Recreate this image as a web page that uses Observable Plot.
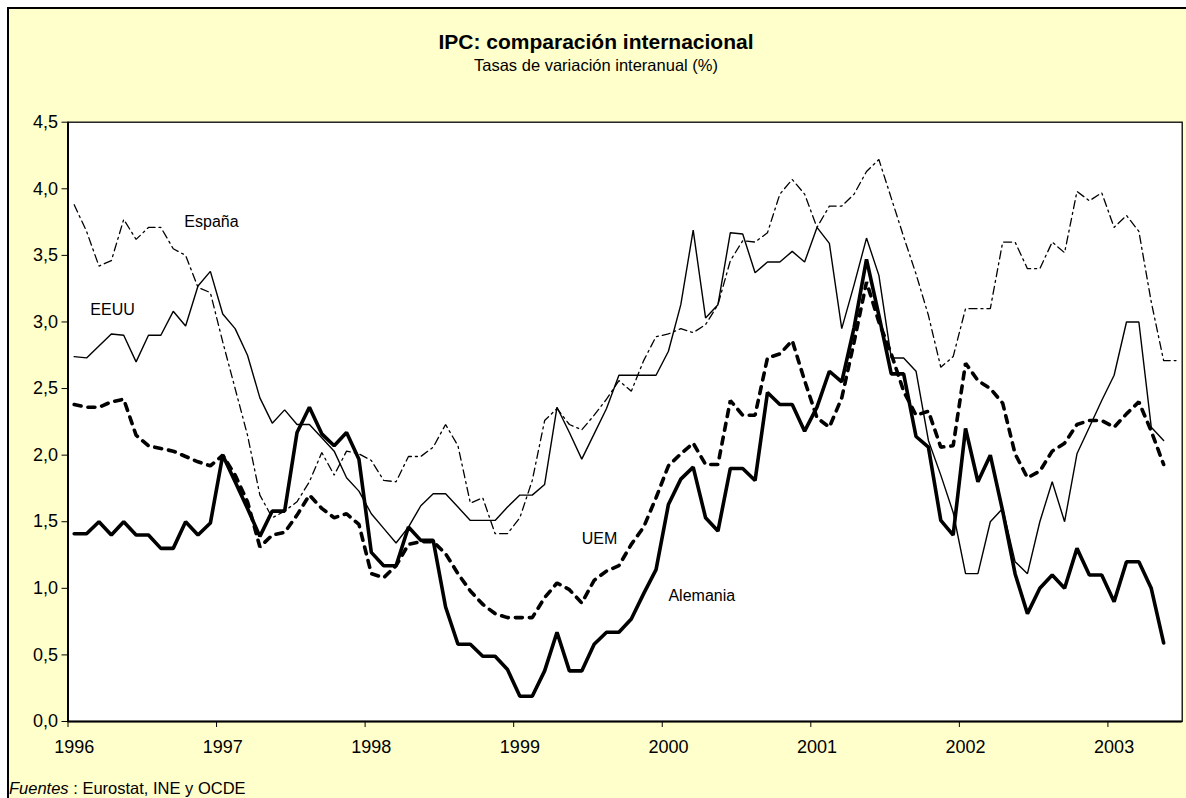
<!DOCTYPE html>
<html>
<head>
<meta charset="utf-8">
<script src="https://cdn.jsdelivr.net/npm/d3@7"></script>
<script src="https://cdn.jsdelivr.net/npm/@observablehq/plot@0.6"></script>
<style>
  html, body { margin: 0; padding: 0; background: white; }
  #page { position: relative; width: 1186px; height: 798px; overflow: hidden; background: white;
          font-family: "Liberation Sans", Arial, sans-serif; color: black; }
  #panel { position: absolute; left: 7px; top: 7px; width: 1200px; height: 820px;
           background: #FFFFCC; border-left: 2px solid black; border-top: 2px solid black; }
  #chart { position: absolute; left: 0; top: 0; }
  .title { position: absolute; left: 0; width: 1192px; text-align: center; line-height: 1; white-space: nowrap; }
  #t1 { top: 31px; font-size: 21px; font-weight: bold; }
  #t2 { top: 57px; font-size: 16.5px; }
  #src { position: absolute; left: 9px; top: 780px; font-size: 16.5px; line-height: 1; white-space: nowrap; }
</style>
</head>
<body>
<div id="page">
  <div id="panel"></div>
  <div id="chart"></div>
  <div class="title" id="t1">IPC: comparación internacional</div>
  <div class="title" id="t2">Tasas de variación interanual (%)</div>
  <div id="src"><i>Fuentes</i> : Eurostat, INE y OCDE</div>
</div>
<script>
// ---- data: monthly year-on-year CPI rates, Jan 1996 onward (index 0 = Jan 1996)
const years = [1996, 1997, 1998, 1999, 2000, 2001, 2002, 2003];

const espana = [
  3.88, 3.68, 3.42, 3.46, 3.77, 3.62, 3.71, 3.71, 3.55, 3.50, 3.26, 3.22,
  2.85, 2.50, 2.15, 1.70, 1.53, 1.58, 1.65, 1.80, 2.02, 1.85, 2.03, 2.01,
  1.96, 1.81, 1.80, 1.99, 1.99, 2.06, 2.23, 2.07, 1.64, 1.68, 1.41, 1.41,
  1.53, 1.81, 2.26, 2.35, 2.23, 2.19, 2.30, 2.42, 2.56, 2.48, 2.71, 2.89,
  2.91, 2.95, 2.92, 2.98, 3.13, 3.46, 3.61, 3.60, 3.67, 3.96, 4.07, 3.96,
  3.71, 3.87, 3.87, 3.96, 4.13, 4.22, 3.93, 3.64, 3.36, 3.05, 2.66, 2.74,
  3.10, 3.10, 3.10, 3.60, 3.60, 3.40, 3.40, 3.60, 3.52, 3.98, 3.91, 3.97,
  3.71, 3.80, 3.68, 3.15, 2.71, 2.71
];

const eeuu = [
  2.74, 2.73, 2.82, 2.91, 2.90, 2.70, 2.90, 2.90, 3.08, 2.97, 3.27, 3.38,
  3.06, 2.95, 2.75, 2.43, 2.24, 2.34, 2.23, 2.23, 2.13, 2.03, 1.83, 1.73,
  1.56, 1.45, 1.34, 1.46, 1.62, 1.71, 1.71, 1.61, 1.51, 1.51, 1.51, 1.61,
  1.70, 1.70, 1.78, 2.36, 2.17, 1.97, 2.16, 2.35, 2.60, 2.60, 2.60, 2.60,
  2.78, 3.13, 3.69, 3.03, 3.13, 3.67, 3.66, 3.37, 3.45, 3.45, 3.53, 3.45,
  3.71, 3.59, 2.95, 3.28, 3.63, 3.35, 2.73, 2.73, 2.63, 2.11, 1.85, 1.57,
  1.11, 1.11, 1.50, 1.60, 1.20, 1.11, 1.50, 1.80, 1.50, 2.01, 2.21, 2.41,
  2.60, 3.00, 3.00, 2.21, 2.11
];

const alemania = [
  1.41, 1.41, 1.50, 1.40, 1.50, 1.40, 1.40, 1.30, 1.30, 1.50, 1.40, 1.49,
  2.00, 1.80, 1.60, 1.39, 1.58, 1.58, 2.17, 2.36, 2.16, 2.07, 2.17, 1.97,
  1.27, 1.17, 1.17, 1.46, 1.36, 1.36, 0.86, 0.58, 0.58, 0.49, 0.49, 0.39,
  0.19, 0.19, 0.38, 0.67, 0.38, 0.38, 0.58, 0.67, 0.67, 0.77, 0.96, 1.14,
  1.63, 1.82, 1.91, 1.53, 1.43, 1.90, 1.90, 1.81, 2.47, 2.38, 2.38, 2.18,
  2.36, 2.63, 2.55, 2.96, 3.47, 3.05, 2.61, 2.61, 2.14, 2.06, 1.51, 1.40,
  2.20, 1.80, 2.00, 1.58, 1.11, 0.81, 1.00, 1.10, 1.00, 1.30, 1.10, 1.10,
  0.90, 1.20, 1.20, 1.00, 0.59
];

const uem = [
  2.38, 2.36, 2.36, 2.40, 2.42, 2.15, 2.07, 2.05, 2.03, 1.99, 1.95, 1.92,
  2.00, 1.85, 1.65, 1.31, 1.40, 1.42, 1.55, 1.70, 1.60, 1.53, 1.56, 1.48,
  1.11, 1.08, 1.17, 1.33, 1.35, 1.35, 1.26, 1.11, 0.98, 0.88, 0.81, 0.78,
  0.78, 0.78, 0.93, 1.04, 0.99, 0.89, 1.06, 1.13, 1.17, 1.33, 1.46, 1.68,
  1.92, 2.01, 2.09, 1.93, 1.93, 2.41, 2.30, 2.30, 2.73, 2.76, 2.86, 2.56,
  2.28, 2.21, 2.43, 2.85, 3.30, 3.00, 2.76, 2.48, 2.30, 2.33, 2.06, 2.07,
  2.69, 2.56, 2.50, 2.39, 2.01, 1.83, 1.88, 2.03, 2.09, 2.23, 2.26, 2.26,
  2.21, 2.31, 2.40, 2.18, 1.93
];

const yTicks = [0, 0.5, 1, 1.5, 2, 2.5, 3, 3.5, 4, 4.5];

// series labels (anchor month index, value)
const labelNames = ["España", "EEUU", "UEM", "Alemania"];
const labelMonth = [8.9, 1.3, 41.0, 48.0];
const labelValue = [3.75, 3.09, 1.37, 0.94];

// ---- build tables
const rows = (arr) => arr.map((v, i) => ({i, v}));
const labels = labelNames.map((name, k) => ({name, i: labelMonth[k], v: labelValue[k]}));
const yearStarts = years.map((y, k) => k * 12);
const yearBounds = years.map((y, k) => k * 12 - 0.5);

const nMonths = espana.length;

const chart = Plot.plot({
  width: 1186,
  height: 798,
  marginLeft: 67.5,
  marginRight: 4.3,
  marginTop: 121.7,
  marginBottom: 77,
  style: {background: "transparent", fontFamily: "'Liberation Sans', Arial, sans-serif", color: "black", overflow: "visible"},
  x: {type: "linear", domain: [-0.5, nMonths - 0.5]},
  y: {domain: [0, 4.5]},
  marks: [
    Plot.frame({fill: "white", stroke: null}),
    Plot.lineY(rows(espana), {x: "i", y: "v", stroke: "black", strokeWidth: 1.3, strokeDasharray: "8,4,2,4", strokeLinejoin: "miter"}),
    Plot.lineY(rows(eeuu), {x: "i", y: "v", stroke: "black", strokeWidth: 1.4, strokeLinejoin: "miter"}),
    Plot.lineY(rows(uem), {x: "i", y: "v", stroke: "black", strokeWidth: 3.6, strokeDasharray: "7,7", strokeLinejoin: "miter"}),
    Plot.lineY(rows(alemania), {x: "i", y: "v", stroke: "black", strokeWidth: 3.6, strokeLinejoin: "miter"}),
    Plot.frame({stroke: "black", strokeWidth: 1.3}),
    Plot.ruleX([-0.5], {stroke: "black", strokeWidth: 2}),
    Plot.ruleY([0], {stroke: "black", strokeWidth: 2}),
    Plot.axisY({ticks: yTicks, tickSize: 6, tickPadding: 4, fontSize: 18, label: null,
                tickFormat: d => d.toFixed(1).replace(".", ",")}),
    Plot.axisX({ticks: yearBounds, tickSize: 6, tickFormat: () => "", label: null}),
    Plot.axisX({ticks: yearStarts, tickSize: 0, tickPadding: 19, fontSize: 18, label: null,
                tickFormat: i => String(years[i / 12])}),
    Plot.text(labels, {x: "i", y: "v", text: "name", textAnchor: "start", fontSize: 16, fill: "black"})
  ]
});

document.getElementById("chart").appendChild(chart);
</script>
</body>
</html>
